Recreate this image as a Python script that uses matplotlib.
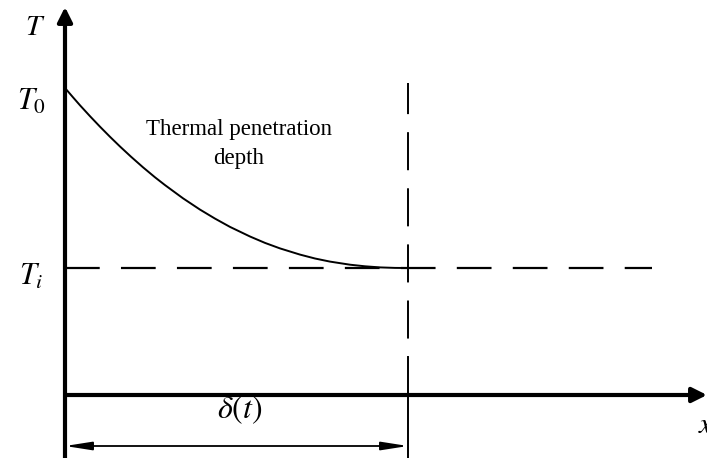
import matplotlib
matplotlib.use("Agg")
import matplotlib.pyplot as plt

plt.rcParams['mathtext.fontset'] = 'stix'
plt.rcParams['lines.scale_dashes'] = False

# Diagram data (x: depth units, T: temperature units; origin at axes crossing)
curve_x = [0, 8, 15, 25, 35, 45, 55, 66, 78, 90, 100, 118, 135, 150, 165, 185,
           200, 215, 235, 250, 265, 285, 300, 315, 330, 343]
curve_T = [307, 297.7, 289.7, 278.8, 268.3, 258.2, 248.5, 238.3, 227.7, 217.7, 209.9,
           196.7, 185.4, 176.4, 168.1, 158.5, 152.1, 146.6, 140.4, 136.5, 133.4,
           130.3, 128.7, 127.6, 127.1, 127]
T0 = 307
Ti = 127
delta = 343
x_axis_end = 642
T_axis_end = 388
Ti_line_end = 587
delta_arrow_T = -51
labels = {"T": "$T$", "T0": "$T_0$", "Ti": "$T_i$", "delta": r"$\delta(t)$", "x": "$x$"}
annotation = "Thermal penetration\ndepth"

fig = plt.figure(figsize=(7.07, 4.58), dpi=100)
ax = fig.add_axes([0, 0, 1, 1])
ax.set_xlim(-65, 642)
ax.set_ylim(-63, 395)
ax.axis('off')

# axes with arrows
ax.annotate('', xy=(0, T_axis_end), xytext=(0, -63),
            arrowprops=dict(arrowstyle='-|>', lw=3.0, color='k', mutation_scale=22,
                            shrinkA=0, shrinkB=0))
ax.annotate('', xy=(x_axis_end, 0), xytext=(0, 0),
            arrowprops=dict(arrowstyle='-|>', lw=3.0, color='k', mutation_scale=22,
                            shrinkA=0, shrinkB=0))

# curve
ax.plot(curve_x, curve_T, color='k', lw=1.4, solid_capstyle='round')

# dashed lines
ax.plot([0, Ti_line_end], [Ti, Ti], color='k', lw=1.6,
        linestyle=(0, (25, 15.3)), dash_capstyle='butt')
ax.plot([delta, delta], [312, 56], color='k', lw=1.4,
        linestyle=(5, (27.4, 13)), dash_capstyle='butt')
ax.plot([delta, delta], [-63, 38], color='k', lw=1.4)

# delta arrow
ax.annotate('', xy=(0, delta_arrow_T), xytext=(delta, delta_arrow_T),
            arrowprops=dict(arrowstyle='<|-|>,head_length=1.6,head_width=0.25', lw=1.3,
                            color='k', mutation_scale=10, shrinkA=0, shrinkB=0))

# labels
ax.text(-30, 368, labels["T"], fontsize=21, ha='center', va='center')
ax.text(-48, 294, labels["T0"], fontsize=22, ha='left', va='center')
ax.text(-46, 119, labels["Ti"], fontsize=22, ha='left', va='center')
ax.text(175, -15, labels["delta"], fontsize=23, ha='center', va='center')
ax.text(641, -30, labels["x"], fontsize=21, ha='center', va='center')
ax.text(174, 251, annotation, fontsize=16.5, ha='center', va='center',
        family='Liberation Serif', linespacing=1.55)

fig.savefig('out.png', dpi=100)
